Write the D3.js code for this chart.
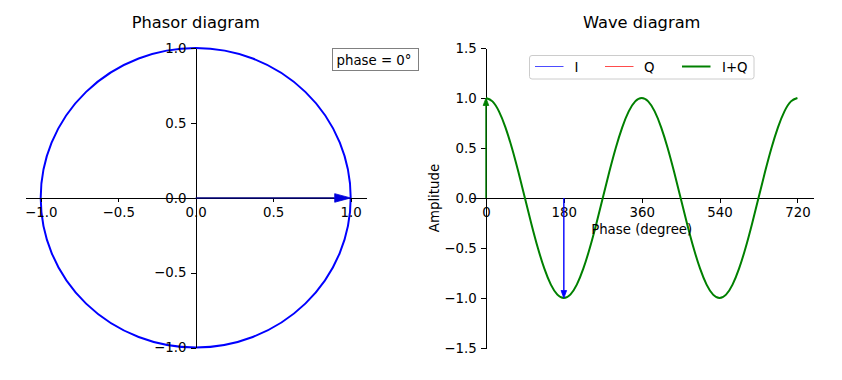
<!DOCTYPE html>
<html>
<head>
<meta charset="utf-8">
<script src="https://cdn.jsdelivr.net/npm/d3@7"></script>
<style>
  html, body { margin: 0; padding: 0; background: #fff; }
  svg { display: block; font-family: "DejaVu Sans", sans-serif; }
  .tick text { font-size: 13.33px; fill: #000; font-family: "DejaVu Sans", sans-serif; }
  .domain, .tick line { shape-rendering: crispEdges; }
</style>
</head>
<body>
<svg id="chart" width="842" height="380"></svg>
<script>
// ---------------- data ----------------
const phasorTicks = [-1.0, -0.5, 0.0, 0.5, 1.0];
const phasorMagnitude = [1.0];          // unit circle
const phasorVector = [{ x: 1.0, y: 0.0 }]; // phase = 0°
const phaseLabel = "phase = 0°";

const waveXTicks = [0, 180, 360, 540, 720];
const waveYTicks = [-1.5, -1.0, -0.5, 0.0, 0.5, 1.0, 1.5];
const wavePhase = [0, 15, 30, 45, 60, 75, 90, 105, 120, 135, 150, 165, 180, 195, 210, 225, 240, 255, 270, 285, 300, 315, 330, 345,
                   360, 375, 390, 405, 420, 435, 450, 465, 480, 495, 510, 525, 540, 555, 570, 585, 600, 615, 630, 645, 660, 675, 690, 705, 720];
const waveIQ = [1, 0.966, 0.866, 0.707, 0.5, 0.259, 0, -0.259, -0.5, -0.707, -0.866, -0.966, -1, -0.966, -0.866, -0.707, -0.5, -0.259, 0, 0.259, 0.5, 0.707, 0.866, 0.966,
                1, 0.966, 0.866, 0.707, 0.5, 0.259, 0, -0.259, -0.5, -0.707, -0.866, -0.966, -1, -0.966, -0.866, -0.707, -0.5, -0.259, 0, 0.259, 0.5, 0.707, 0.866, 0.966, 1];
const waveArrows = [
  { phase: 0, value: 1.0, color: "#008000" },
  { phase: 180, value: -1.0, color: "#0000ff" }
];
const legendItems = [
  { label: "I", color: "#0000ff", width: 1, opacity: 0.7 },
  { label: "Q", color: "#ff0000", width: 1, opacity: 0.7 },
  { label: "I+Q", color: "#008000", width: 2, opacity: 1 }
];

// ---------------- setup ----------------
const svg = d3.select("#chart");
svg.append("rect").attr("width", 842).attr("height", 380).attr("fill", "#fff");

const TICK = 4.67, PAD = 4.67;
const fmt1 = d => d.toFixed(1).replace("-", "\u2212");

function arrow(g, x1, y1, x2, y2, color, headColor, headLen, headHalf, lw) {
  const dx = x2 - x1, dy = y2 - y1, L = Math.hypot(dx, dy);
  const ux = dx / L, uy = dy / L, px = -uy, py = ux;
  const bx = x2 - ux * headLen, by = y2 - uy * headLen;
  g.append("line").attr("x1", x1).attr("y1", y1).attr("x2", bx).attr("y2", by)
    .attr("stroke", color).attr("stroke-width", lw);
  g.append("path")
    .attr("d", `M${x2},${y2}L${bx + px * headHalf},${by + py * headHalf}L${bx - px * headHalf},${by - py * headHalf}Z`)
    .attr("fill", headColor).attr("stroke", headColor).attr("stroke-width", 0.8);
}

function styleAxis(sel) {
  sel.select(".domain").attr("stroke", "#000").attr("stroke-width", 1);
  sel.selectAll(".tick line").attr("stroke", "#000").attr("stroke-width", 1);
}

// ---------------- left: phasor ----------------
const xL = d3.scaleLinear().domain([-1.1, 1.1]).range([25.2, 366.2]);
const yL = d3.scaleLinear().domain([-1, 1]).range([347.5, 48]);
const gL = svg.append("g");

gL.append("text").attr("x", (25.2 + 366.2) / 2).attr("y", 28).attr("text-anchor", "middle")
  .attr("font-size", 16.3).text("Phasor diagram");

gL.selectAll("ellipse.circ").data(phasorMagnitude).join("ellipse")
  .attr("class", "circ")
  .attr("cx", xL(0)).attr("cy", yL(0))
  .attr("rx", d => xL(d) - xL(0)).attr("ry", d => yL(0) - yL(d))
  .attr("fill", "none").attr("stroke", "#0000ff").attr("stroke-width", 2);

const axLx = gL.append("g").attr("transform", `translate(0,${yL(0)})`)
  .call(d3.axisBottom(xL).tickValues(phasorTicks).tickFormat(fmt1).tickSize(TICK).tickSizeOuter(0).tickPadding(PAD));
const axLy = gL.append("g").attr("transform", `translate(${xL(0)},0)`)
  .call(d3.axisLeft(yL).tickValues(phasorTicks).tickFormat(fmt1).tickSize(TICK).tickSizeOuter(0).tickPadding(PAD));
[axLx, axLy].forEach(styleAxis);

phasorVector.forEach(v => {
  arrow(gL, xL(0), yL(0) + 0.3, xL(v.x), yL(v.y) + 0.2, "#00007a", "#0000dd", 16, 4.3, 1.6);
});

const boxG = gL.append("g");
boxG.append("rect").attr("x", 332.5).attr("y", 48.5).attr("width", 86).attr("height", 22)
  .attr("fill", "#fff").attr("stroke", "#808080").attr("stroke-width", 1);
boxG.append("text").attr("x", 336.5).attr("y", 64.5).attr("font-size", 13.33).text(phaseLabel);

// ---------------- right: wave ----------------
const xR = d3.scaleLinear().domain([-36, 756]).range([470.4, 813]);
const yR = d3.scaleLinear().domain([-1.5, 1.5]).range([348, 48]);
const gR = svg.append("g");

gR.append("text").attr("x", (470.4 + 813) / 2).attr("y", 28).attr("text-anchor", "middle")
  .attr("font-size", 16.3).text("Wave diagram");

const axRx = gR.append("g").attr("transform", `translate(0,${yR(0)})`)
  .call(d3.axisBottom(xR).tickValues(waveXTicks).tickFormat(d3.format("d")).tickSize(TICK).tickSizeOuter(0).tickPadding(PAD));
const axRy = gR.append("g").attr("transform", `translate(${xR(0)},0)`)
  .call(d3.axisLeft(yR).tickValues(waveYTicks).tickFormat(fmt1).tickSize(TICK).tickSizeOuter(0).tickPadding(PAD));
[axRx, axRy].forEach(styleAxis);

const waveData = wavePhase.map((p, i) => ({ p, v: waveIQ[i] }));
gR.append("path").datum(waveData)
  .attr("d", d3.line().x(d => xR(d.p)).y(d => yR(d.v)).curve(d3.curveNatural))
  .attr("fill", "none").attr("stroke", "#008000").attr("stroke-width", 2);

waveArrows.forEach(a => {
  arrow(gR, xR(a.phase), yR(0), xR(a.phase), yR(a.value), a.color, a.color, 7.5, 2.8, 1.4);
});

gR.append("text").attr("x", (470.4 + 813) / 2).attr("y", 234).attr("text-anchor", "middle")
  .attr("font-size", 13.33).text("Phase (degree)");
gR.append("text").attr("transform", `translate(438.5,${(48 + 348) / 2}) rotate(-90)`)
  .attr("text-anchor", "middle").attr("font-size", 13.33).text("Amplitude");

// legend
const lg = gR.append("g");
lg.append("rect").attr("x", 529.5).attr("y", 55.5).attr("width", 224.5).attr("height", 23.5)
  .attr("rx", 2.5).attr("fill", "#fff").attr("fill-opacity", 0.8).attr("stroke", "#cccccc").attr("stroke-width", 1);
const legX = [535, 605, 682];
const legT = [574.5, 644, 722];
legendItems.forEach((d, i) => {
  lg.append("line").attr("x1", legX[i]).attr("x2", legX[i] + 28.5).attr("y1", 66.5).attr("y2", 66.5)
    .attr("stroke", d.color).attr("stroke-width", d.width).attr("stroke-opacity", d.opacity);
  lg.append("text").attr("x", legT[i]).attr("y", 71.5).attr("font-size", 13.33).text(d.label);
});
</script>
</body>
</html>
